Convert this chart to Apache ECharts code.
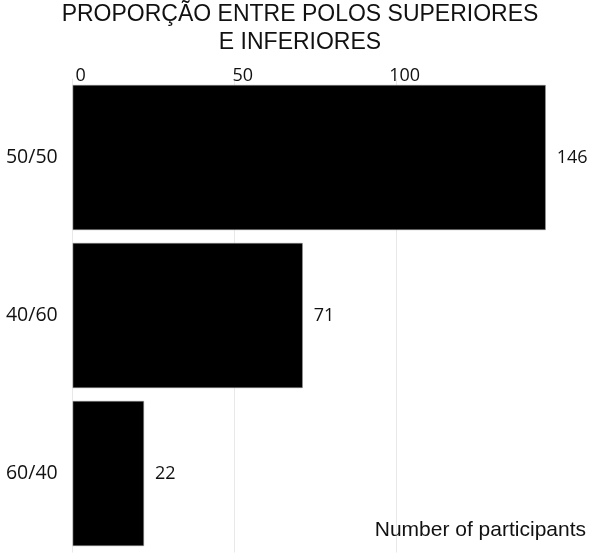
<!DOCTYPE html>
<html>
<head>
<meta charset="utf-8">
<script src="https://cdn.jsdelivr.net/npm/echarts@6/dist/echarts.min.js"></script>
<style>html,body{margin:0;padding:0;background:#fff;}#c{width:600px;height:557px;}</style>
</head>
<body>
<div id="c"></div>
<script>
var titleText = 'PROPORÇÃO ENTRE POLOS SUPERIORES\nE INFERIORES';
var axisName = 'Number of participants';
var categories = ['50/50', '40/60', '60/40'];
var values = [146, 71, 22];

var chart = echarts.init(document.getElementById('c'));
chart.setOption({
  animation: false,
  backgroundColor: '#fff',
  title: [
    {
      text: titleText,
      left: 'center',
      top: 1,
      padding: 0,
      textStyle: { fontFamily: 'Liberation Sans', fontSize: 23, fontWeight: 'normal', color: '#111', lineHeight: 28 }
    },
    {
      text: axisName,
      right: 14,
      top: 520,
      padding: 0,
      textStyle: { fontFamily: 'Liberation Sans', fontSize: 21, fontWeight: 'normal', color: '#111' }
    }
  ],
  grid: { left: 72.7, right: 47.8, top: 78.5, bottom: 4.5, containLabel: false },
  xAxis: {
    type: 'value',
    position: 'top',
    min: 0,
    max: 148,
    interval: 50,
    axisLine: { show: false },
    axisTick: { show: false },
    axisLabel: { fontFamily: 'Open Sans', fontSize: 18, color: '#111', margin: -6, padding: [0, 0, 0, 16], showMaxLabel: false },
    splitLine: { show: true, showMaxLine: false, lineStyle: { color: '#e8e8e8', width: 1 } }
  },
  yAxis: {
    type: 'category',
    inverse: true,
    data: categories,
    axisLine: { show: false },
    axisTick: { show: false },
    axisLabel: { fontFamily: 'Open Sans', fontSize: 19.5, color: '#111', margin: 15 }
  },
  series: [{
    type: 'bar',
    data: values,
    barCategoryGap: '8.2%',
    itemStyle: { color: '#000', borderColor: '#999', borderWidth: 0.5 },
    label: { show: true, position: 'right', distance: 11, fontFamily: 'Open Sans', fontSize: 18, color: '#111' }
  }]
});
</script>
</body>
</html>
